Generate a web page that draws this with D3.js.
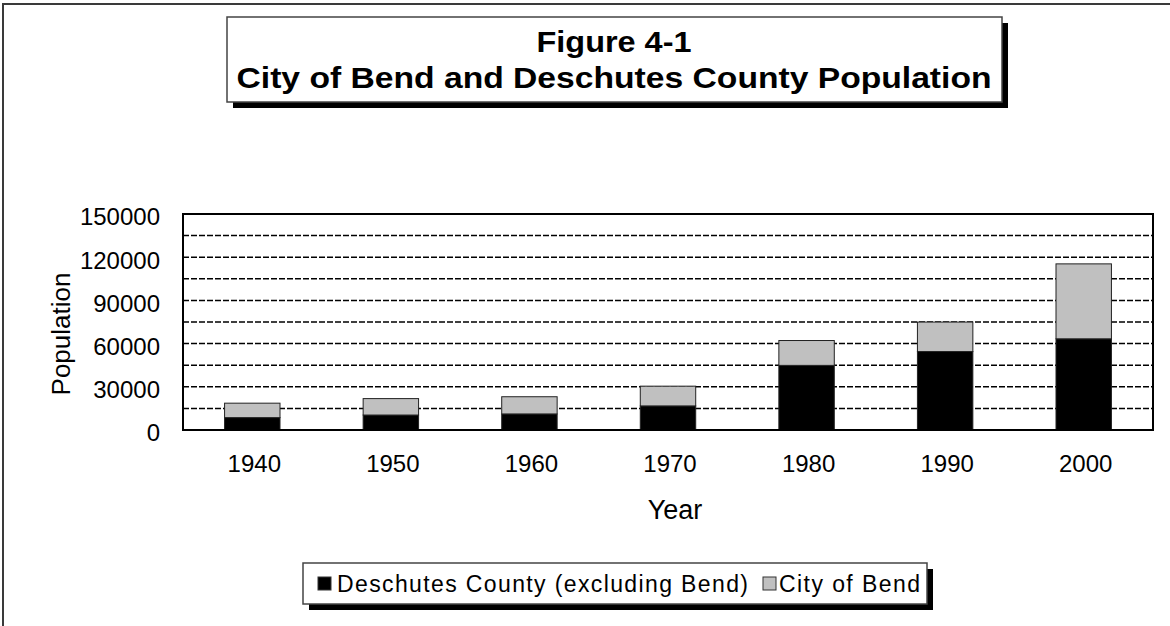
<html>
<meta charset="utf-8" />
<head>
<title>Figure 4-1</title>
<script src="https://cdn.jsdelivr.net/npm/d3@7/dist/d3.min.js"></script>
<style>
	body { margin: 0; background: #fff; }
	svg { display: block; }
	svg text { font-family: "Liberation Sans", Arial, sans-serif; fill: #000; }
</style>
<script>
// 데이터
const years = ['1940', '1950', '1960', '1970', '1980', '1990', '2000'];
const countyExBend = [8610, 10403, 11164, 16732, 44879, 54489, 63338];
const cityOfBend = [10021, 11409, 11936, 13710, 17263, 20469, 52029];
const yTicks = [0, 30000, 60000, 90000, 120000, 150000];
const gridValues = [15000, 30000, 45000, 60000, 75000, 90000, 105000, 120000, 135000];
const seriesNames = ['Deschutes County (excluding Bend)', 'City of Bend'];

window.onload = function() {
	let svg = d3.select('svg');
	const FONT = '"Liberation Sans", Arial, sans-serif';

	// 바깥 테두리 (왼쪽, 위쪽만 보인다)
	svg.append('rect')
	.attr('x', 3).attr('y', 4)
	.attr('width', 1300).attr('height', 800)
	.style('fill', 'none')
	.style('stroke', '#3a3a3a')
	.style('stroke-width', '2px');

	let left = 183, right = 1153, top = 214, bottom = 430;

	let xScale = d3.scaleBand().domain(years).range([left, right]).paddingInner(0.6).paddingOuter(0.3);
	let yScale = d3.scaleLinear().domain([0, 150000]).range([bottom, top]);

	// 격자선
	svg.append('g').selectAll('line.grid')
	.data(gridValues).enter()
	.append('line')
	.attr('class', 'grid')
	.attr('x1', left).attr('x2', right)
	.attr('y1', (d) => yScale(d)).attr('y2', (d) => yScale(d))
	.style('stroke', '#000')
	.style('stroke-width', '1.5px')
	.style('stroke-dasharray', '6,2');

	// 누적 막대
	let rows = years.map((y, i) => ({ year: y, county: countyExBend[i], bend: cityOfBend[i] }));

	let bars = svg.append('g').selectAll('g.bar')
	.data(rows).enter()
	.append('g')
	.attr('class', 'bar');

	bars.append('rect')
	.attr('x', (d) => xScale(d.year))
	.attr('width', xScale.bandwidth())
	.attr('y', (d) => yScale(d.county))
	.attr('height', (d) => bottom - yScale(d.county))
	.style('fill', '#000')
	.style('stroke', '#222')
	.style('stroke-width', '1px');

	bars.append('rect')
	.attr('x', (d) => xScale(d.year))
	.attr('width', xScale.bandwidth())
	.attr('y', (d) => yScale(d.county + d.bend))
	.attr('height', (d) => yScale(d.county) - yScale(d.county + d.bend))
	.style('fill', '#c0c0c0')
	.style('stroke', '#222')
	.style('stroke-width', '1px');

	// 플롯 테두리
	svg.append('rect')
	.attr('x', left).attr('y', top)
	.attr('width', right - left).attr('height', bottom - top)
	.style('fill', 'none')
	.style('stroke', '#000')
	.style('stroke-width', '2px');

	// 축
	let yAxis = d3.axisLeft(yScale).tickValues(yTicks).tickFormat(d3.format('d')).tickSize(0).tickPadding(23);
	let yg = svg.append('g').attr('transform', 'translate(' + left + ', 0)').call(yAxis);
	yg.attr('font-family', FONT).attr('font-size', 24);
	yg.select('path.domain').remove();
	yg.selectAll('text').attr('dy', '0.45em').style('font-size', '24px').style('font-family', FONT);

	let xAxis = d3.axisBottom(xScale).tickSize(0).tickPadding(25);
	let xg = svg.append('g').attr('transform', 'translate(2, ' + bottom + ')').call(xAxis);
	xg.attr('font-family', FONT).attr('font-size', 24);
	xg.select('path.domain').remove();
	xg.selectAll('text').style('font-size', '24px').style('font-family', FONT);

	// 축 제목
	svg.append('text')
	.attr('x', 675).attr('y', 519)
	.attr('text-anchor', 'middle')
	.style('font-family', FONT)
	.style('font-size', '27px')
	.text('Year');

	svg.append('text')
	.attr('transform', 'translate(70, 334) rotate(-90)')
	.attr('text-anchor', 'middle')
	.style('font-family', FONT)
	.style('font-size', '26px')
	.text('Population');

	// 제목 상자 (그림자 포함)
	svg.append('rect').attr('x', 233).attr('y', 23).attr('width', 775).attr('height', 85).style('fill', '#000');
	svg.append('rect').attr('x', 227).attr('y', 17).attr('width', 775).attr('height', 85)
	.style('fill', '#fff').style('stroke', '#444').style('stroke-width', '1.5px');

	svg.append('text')
	.attr('x', 614).attr('y', 52)
	.attr('text-anchor', 'middle')
	.attr('textLength', 155).attr('lengthAdjust', 'spacingAndGlyphs')
	.style('font-family', FONT)
	.style('font-size', '30px').style('font-weight', 'bold')
	.text('Figure 4-1');

	svg.append('text')
	.attr('x', 614).attr('y', 88)
	.attr('text-anchor', 'middle')
	.attr('textLength', 755).attr('lengthAdjust', 'spacingAndGlyphs')
	.style('font-family', FONT)
	.style('font-size', '30px').style('font-weight', 'bold')
	.text('City of Bend and Deschutes County Population');

	// 범례 상자
	svg.append('rect').attr('x', 309).attr('y', 569).attr('width', 624).attr('height', 41).style('fill', '#000');
	svg.append('rect').attr('x', 303).attr('y', 563).attr('width', 624).attr('height', 41)
	.style('fill', '#fff').style('stroke', '#444').style('stroke-width', '1.5px');

	let legendItems = [
		{ name: seriesNames[0], color: '#000', sx: 318, tx: 337, len: 411 },
		{ name: seriesNames[1], color: '#c0c0c0', sx: 763, tx: 779, len: 141 }
	];

	let lg = svg.append('g').selectAll('g.legend')
	.data(legendItems).enter()
	.append('g')
	.attr('class', 'legend');

	lg.append('rect')
	.attr('x', (d) => d.sx).attr('y', 577)
	.attr('width', 13).attr('height', 13)
	.style('fill', (d) => d.color)
	.style('stroke', '#333')
	.style('stroke-width', '1px');

	lg.append('text')
	.attr('x', (d) => d.tx).attr('y', 592)
	.attr('textLength', (d) => d.len).attr('lengthAdjust', 'spacing')
	.style('font-family', FONT)
	.style('font-size', '23px')
	.text((d) => d.name);
}
</script>
</head>
<body>
<svg width="1170" height="626"></svg>
</body>
</html>
